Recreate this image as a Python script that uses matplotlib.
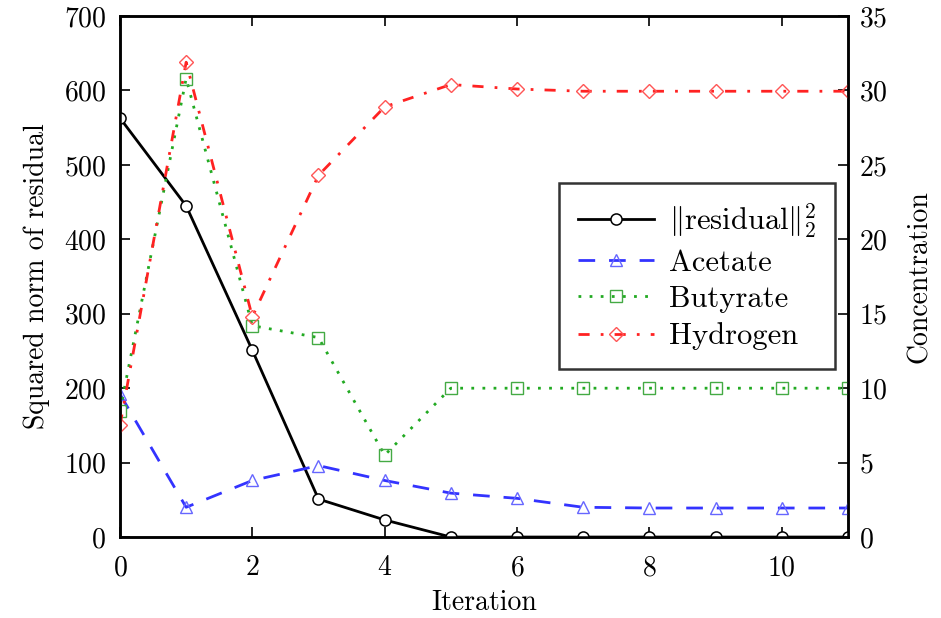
import matplotlib
matplotlib.use("Agg")
import matplotlib.pyplot as plt

plt.rcParams['font.family'] = ['cmr10', 'DejaVu Serif']
plt.rcParams['mathtext.fontset'] = 'cm'
plt.rcParams['axes.formatter.use_mathtext'] = True

iterations = [0, 1, 2, 3, 4, 5, 6, 7, 8, 9, 10, 11]
residual = [563, 445, 251, 51, 23, 0, 0, 0, 0, 0, 0, 0]
acetate = [9.6, 2.0, 3.8, 4.8, 3.8, 2.95, 2.6, 2.0, 1.95, 1.95, 1.95, 1.95]
butyrate = [8.5, 30.8, 14.2, 13.4, 5.5, 10.0, 10.0, 10.0, 10.0, 10.0, 10.0, 10.0]
hydrogen = [7.5, 31.9, 14.8, 24.3, 28.9, 30.4, 30.1, 29.95, 29.95, 29.95, 29.95, 29.95]

fig = plt.figure(figsize=(9.41, 6.18), dpi=100)
ax = fig.add_axes([0.1275, 0.131, 0.7735, 0.843])
ax2 = ax.twinx()

fs = 20
h1, = ax.plot(iterations, residual, color='black', lw=2.0, marker='o', ms=8,
              mfc='white', mec='black', mew=1.1, label=r'$\|\mathrm{residual}\|_2^2$', zorder=5)
h2, = ax2.plot(iterations, acetate, color='#3333ff', lw=2.0, ls=(0, (6, 5)), marker='^', ms=8,
               mfc='none', mec='#6666ff', mew=1.0, label='Acetate')
h3, = ax2.plot(iterations, butyrate, color='#22aa22', lw=2.0, ls=(0, (1, 3)), marker='s', ms=8,
               mfc='none', mec='#44aa44', mew=1.0, label='Butyrate')
h4, = ax2.plot(iterations, hydrogen, color='#ff2222', lw=2.0, ls=(0, (4, 4, 1, 4)), marker='D', ms=7,
               mfc='none', mec='#ff5555', mew=1.0, label='Hydrogen')

ax.set_xlim(0, 11)
ax.set_ylim(0, 700)
ax2.set_ylim(0, 35)
ax.set_xticks([0, 2, 4, 6, 8, 10])
ax.set_yticks(range(0, 701, 100))
ax2.set_yticks(range(0, 36, 5))

ax.tick_params(axis='x', direction='in', top=True, length=7, width=1.2, labelsize=fs, pad=13)
ax.tick_params(axis='y', direction='in', length=7, width=1.2, labelsize=fs, pad=10)
ax2.tick_params(axis='y', direction='in', length=7, width=1.2, labelsize=fs, pad=8)

for a in (ax, ax2):
    for s in a.spines.values():
        s.set_linewidth(1.8)

ax.set_xlabel('Iteration', fontsize=fs, labelpad=6)
ax.set_ylabel('Squared norm of residual', fontsize=fs, labelpad=10)
ax2.set_ylabel('Concentration', fontsize=fs, labelpad=14)

leg = ax2.legend(handles=[h1, h2, h3, h4], loc='upper right', bbox_to_anchor=(0.982, 0.68),
                 fontsize=22, frameon=True, fancybox=False, handlelength=2.5,
                 labelspacing=0.3, borderpad=0.6, handletextpad=0.5, borderaxespad=0)
leg.get_frame().set_edgecolor('black')
leg.get_frame().set_linewidth(1.8)

fig.savefig('out.png', dpi=100)
